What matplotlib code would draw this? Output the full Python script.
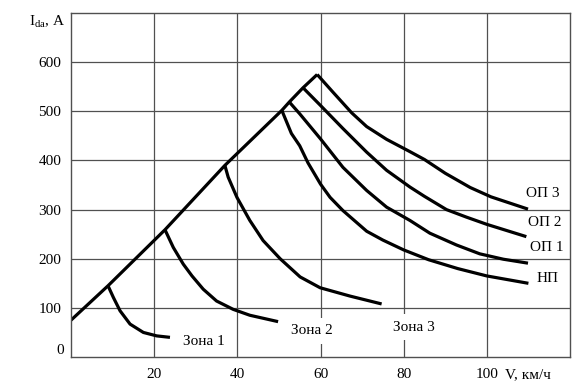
import matplotlib

matplotlib.use("Agg")

import matplotlib.pyplot as plt
import matplotlib.transforms as mtransforms

# main rising line (traction limit) and the branch points on it
diag_v = [0, 8.9, 22.6, 37.0, 50.7, 52.5, 55.8, 59.2]
diag_i = [75, 145, 259, 390, 502, 519, 548, 575]

zone1_v = [8.9, 10.2, 11.8, 14.2, 17.4, 20.6, 23.8]
zone1_i = [145, 121, 94, 67, 50, 43, 40]

zone2_v = [22.6, 24.6, 27.0, 29.1, 31.8, 35.0, 39.0, 43.0, 49.8]
zone2_i = [259, 223, 189, 165, 138, 114, 97, 85, 72]

zone3_v = [37.0, 37.8, 39.9, 43.0, 46.2, 50.3, 55.1, 59.9, 67.1, 74.7]
zone3_i = [390, 366, 325, 278, 237, 200, 163, 141, 124, 108]

np_v = [50.7, 53.0, 55.0, 57.0, 60.0, 62.3, 65.4, 71.1, 75.0, 80.0, 86.0, 93.0, 100.0, 110.0]
np_i = [502, 455, 430, 395, 352, 325, 298, 256, 238, 218, 198, 180, 165, 150]

op1_v = [52.5, 55.0, 60.0, 65.4, 71.1, 75.9, 81.5, 86.3, 92.7, 98.3, 104.0, 109.9]
op1_i = [519, 495, 444, 386, 339, 305, 278, 252, 228, 210, 199, 191]

op2_v = [55.8, 60.0, 65.4, 71.1, 75.9, 81.5, 85.0, 90.3, 95.0, 100.0, 109.5]
op2_i = [548, 512, 465, 417, 380, 346, 327, 300, 285, 270, 245]

op3_v = [59.2, 63.0, 67.5, 71.1, 75.9, 81.5, 85.0, 90.0, 96.0, 101.0, 109.9]
op3_i = [575, 539, 497, 469, 443, 418, 402, 374, 345, 326, 301]

curve_labels = ["ОП 3", "ОП 2", "ОП 1", "НП"]
curve_label_pos = [(113.5, 332), (113.9, 274), (114.3, 223), (114.7, 159)]
zone_labels = ["Зона 1", "Зона 2", "Зона 3"]
zone_label_pos = [(32.0, 31), (58.0, 53), (82.4, 61)]

x_ticks = [20, 40, 60, 80, 100]
y_ticks = [100, 200, 300, 400, 500, 600]

plt.rcParams.update(
    {
        "font.family": ["Liberation Serif", "DejaVu Serif"],
        "font.size": 11,
        "mathtext.fontset": "custom",
        "mathtext.rm": "Liberation Serif",
    }
)

fig = plt.figure(figsize=(5.83, 3.85), dpi=100)
ax = fig.add_axes([0.1218, 0.0727, 0.8559, 0.8933])

grid_color = "#505050"
ax.set_xlim(0, 120)
ax.set_ylim(0, 700)
ax.set_xticks(x_ticks)
ax.set_xticks([110], ["V, км/ч"], minor=True)
ax.set_yticks(y_ticks)
ax.tick_params(which="both", length=0, pad=7, labelsize=11)
ax.tick_params(axis="x", which="both", pad=8)
ax.grid(True, which="major", color=grid_color, linewidth=0.9)
ax.set_axisbelow(True)
for sp in ax.spines.values():
    sp.set_color(grid_color)
    sp.set_linewidth(1.0)

lw = 2.3
for xs, ys in [
    (diag_v, diag_i),
    (zone1_v, zone1_i),
    (zone2_v, zone2_i),
    (zone3_v, zone3_i),
    (np_v, np_i),
    (op1_v, op1_i),
    (op2_v, op2_i),
    (op3_v, op3_i),
]:
    ax.plot(xs, ys, color="black", linewidth=lw, solid_capstyle="butt", solid_joinstyle="round")

for text, (x, y) in zip(curve_labels, curve_label_pos):
    ax.text(x, y, text, ha="center", va="center")

for text, (x, y) in zip(zone_labels, zone_label_pos):
    ax.text(x, y, text, ha="center", va="center",
            bbox=dict(boxstyle="square,pad=0.4", facecolor="white", edgecolor="none"))

trans = mtransforms.blended_transform_factory(ax.transAxes, ax.transData)
ax.text(-0.014, 14, "0", transform=trans, ha="right", va="center")
ax.text(-0.011, 682, r"I$_{\mathrm{da}}$, A", transform=trans, ha="right", va="center")

fig.savefig("out.png", dpi=100)
